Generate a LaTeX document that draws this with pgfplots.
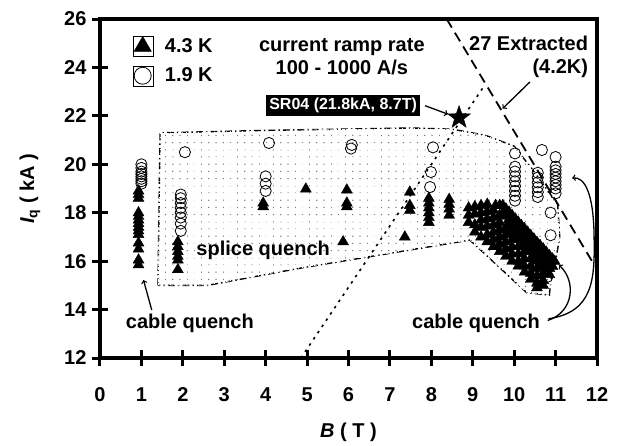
\documentclass[border=0pt]{standalone}
\usepackage{fontspec}
\setmainfont{Liberation Sans}
\usepackage{pgfplots}
\pgfplotsset{compat=1.18}
\usetikzlibrary{patterns}

\pgfdeclarepatternformonly{sparsedots}{\pgfqpoint{-1pt}{-1pt}}{\pgfqpoint{1pt}{1pt}}{\pgfqpoint{7.2pt}{7.2pt}}{\pgfpathcircle{\pgfqpoint{0pt}{0pt}}{0.75pt}\pgfusepath{fill}}
\pgfdeclarepatternformonly{whitegrid}{\pgfqpoint{0pt}{0pt}}{\pgfqpoint{3.6pt}{3.6pt}}{\pgfqpoint{3.6pt}{3.6pt}}{%
 \pgfpathrectangle{\pgfqpoint{0pt}{0pt}}{\pgfqpoint{3.6pt}{1pt}}%
 \pgfpathrectangle{\pgfqpoint{0pt}{0pt}}{\pgfqpoint{1pt}{3.6pt}}%
 \pgfusepath{fill}}

\pgfdeclareplotmark{fivestar}{%
 \pgfpathmoveto{\pgfpointpolar{90}{\pgfplotmarksize}}%
 \pgfpathlineto{\pgfpointpolar{126}{0.4\pgfplotmarksize}}%
 \pgfpathlineto{\pgfpointpolar{162}{\pgfplotmarksize}}%
 \pgfpathlineto{\pgfpointpolar{198}{0.4\pgfplotmarksize}}%
 \pgfpathlineto{\pgfpointpolar{234}{\pgfplotmarksize}}%
 \pgfpathlineto{\pgfpointpolar{270}{0.4\pgfplotmarksize}}%
 \pgfpathlineto{\pgfpointpolar{306}{\pgfplotmarksize}}%
 \pgfpathlineto{\pgfpointpolar{342}{0.4\pgfplotmarksize}}%
 \pgfpathlineto{\pgfpointpolar{18}{\pgfplotmarksize}}%
 \pgfpathlineto{\pgfpointpolar{54}{0.4\pgfplotmarksize}}%
 \pgfpathclose\pgfusepathqfillstroke}

\newcommand\fs{\fontsize{20}{23}\selectfont\bfseries}

\begin{document}
\begin{tikzpicture}
\useasboundingbox (-100pt,-87pt) rectangle (518pt,358pt);
\begin{axis}[
  at={(0,0)}, anchor=south west,
  scale only axis, width=497pt, height=339pt,
  xmin=0, xmax=12, ymin=12, ymax=26,
  clip=false,
  axis line style={line width=3pt},
  xtick={0,1,...,12}, ytick={12,14,...,26},
  tick pos=left, tick align=center, major tick length=16pt,
  major tick style={line width=3pt, black},
  /pgf/number format/assume math mode=true,
  ticklabel style={font=\fs},
  yticklabel style={xshift=-2pt},
  xticklabel style={yshift=-18pt},
  xlabel={{\itshape B} ( T )},
  ylabel={{\itshape I}\textsubscript{q} ( kA )},
  every axis x label/.style={at={(axis description cs:0.5,-0.218)}, anchor=center, font=\fs},
  every axis y label/.style={at={(axis description cs:-0.141,0.5)}, anchor=center, rotate=90, font=\fs},
  legend style={at={(axis cs:0.78,25.3)}, anchor=north west, draw=none, fill=none,
    font=\fs, row sep=9pt, inner sep=0pt, column sep=10pt},
  legend cell align=left,
  legend image code/.code={\path (-10pt,-10pt) rectangle (10pt,10pt);
     \draw[#1] plot coordinates {(0pt,0pt)};},
]
% splice region (dotted fill)
\addplot[black, line width=1.4pt, dash pattern=on 7pt off 3pt on 1.5pt off 3pt,
  pattern=sparsedots, pattern color=black!55, forget plot] coordinates {
 (1.4,15.0)(1.45,21.3)(4,21.4)(7.5,21.5)(8.5,21.45)(9.3,21.2)(10.0,20.75)
 (10.45,19.76)(11.05,18.35)(11.1,17.0)(11.0,16.0)(10.9,15.4)(10.85,14.6)
 (10.3,14.7)(8.93,16.87)(4.8,15.7)(2.6,15.0)} -- cycle;

% 4.3 K, quenches inside region (checkered look)
\addplot[only marks, mark=triangle*, mark size=6.3pt, black, mark options={line width=0.4pt}, forget plot] coordinates {
 (1.88,16.8)(1.88,16.6)(1.88,16.4)(1.88,16.2)(1.88,16.05)(1.88,15.65)
 (3.94,18.4)(3.94,18.25)
 (4.97,18.98)
 (5.96,18.94)(5.96,18.4)(5.96,18.25)(5.87,16.8)
 (7.48,18.85)(7.48,18.3)(7.48,18.1)(7.36,17.0)
 (7.94,18.6)(7.94,18.4)(7.94,18.2)(7.94,18.0)(7.94,17.8)(7.94,17.6)
 (8.43,18.55)(8.43,18.35)(8.43,18.15)(8.43,17.9)
 (8.9,18.2)(8.9,17.9)(8.9,17.6)
 (9.05,18.25)(9.05,17.95)(9.05,17.5)(9.05,17.2)
 (9.2,18.3)(9.2,18.0)(9.2,17.7)(9.2,17.4)(9.2,17.0)
 (9.35,18.35)(9.35,18.05)(9.35,17.75)(9.35,17.45)(9.35,17.1)(9.35,16.8)
 (9.5,18.1)(9.5,17.8)(9.5,17.5)(9.5,17.2)(9.5,16.9)(9.5,16.6)
 (9.65,17.9)(9.65,17.6)(9.65,17.3)(9.65,17.0)(9.65,16.7)(9.65,16.4)
 (9.8,17.4)(9.8,17.1)(9.8,16.8)(9.8,16.5)(9.8,16.2)
 (9.95,17.2)(9.95,16.9)(9.95,16.6)(9.95,16.3)(9.95,16.0)
 (10.1,16.9)(10.1,16.6)(10.1,16.3)(10.1,16.0)(10.1,15.8)
 (10.25,16.7)(10.25,16.4)(10.25,16.1)(10.25,15.8)(10.25,15.55)
 (10.4,16.4)(10.4,16.1)(10.4,15.8)(10.4,15.5)(10.4,15.25)
 (10.55,16.0)(10.55,15.7)(10.55,15.4)(10.55,15.1)(10.55,14.9)
 (10.7,15.8)(10.7,15.5)(10.7,15.2)(10.7,15.0)
 (10.85,15.7)(10.85,15.45)
};
% white grid overlay gives the checkered look
\addplot[draw=none, pattern=whitegrid, pattern color=white, forget plot] coordinates {
 (1.4,15.0)(1.45,21.3)(4,21.4)(7.5,21.5)(8.5,21.45)(9.3,21.2)(10.0,20.75)
 (10.45,19.76)(11.05,18.35)(11.1,17.0)(11.0,16.0)(10.9,15.4)(10.85,14.6)
 (10.3,14.7)(8.93,16.87)(4.8,15.7)(2.6,15.0)} -- cycle;

% 4.3 K, solid
\addplot[only marks, mark=triangle*, mark size=6.3pt, black, mark options={line width=0.4pt}, forget plot] coordinates {
 (0.93,18.9)(0.93,18.75)(0.93,18.6)(0.93,18.0)(0.93,17.85)(0.93,17.7)(0.93,17.55)
 (0.93,17.4)(0.93,17.25)(0.93,17.1)(0.93,16.75)(0.93,16.5)(0.93,16.05)(0.93,15.85)
 (9.55,18.3)(9.65,18.3)(9.725,18.3)(9.8,18.16)(9.875,18.03)(9.95,17.89)
 (10.025,17.75)(10.1,17.61)(10.175,17.47)(10.25,17.34)(10.325,17.2)(10.4,17.06)
 (10.475,16.92)(10.55,16.78)(10.625,16.65)(10.7,16.51)(10.775,16.37)(10.85,16.23)
 (10.925,16.09)(10.98,15.99)
 (9.725,18.0)(9.8,17.86)(9.875,17.73)(9.95,17.59)
 (10.025,17.45)(10.1,17.31)(10.175,17.17)(10.25,17.04)(10.325,16.9)(10.4,16.76)
 (10.475,16.62)(10.55,16.48)(10.625,16.35)(10.7,16.21)(10.775,16.07)(10.85,15.93)
 (10.925,15.79)
 (9.875,17.43)(9.95,17.29)
 (10.025,17.15)(10.1,17.01)(10.175,16.87)(10.25,16.74)(10.325,16.6)(10.4,16.46)
 (10.475,16.32)(10.55,16.18)(10.625,16.05)(10.7,15.91)(10.775,15.77)
};

% 1.9 K
\addplot[only marks, mark=o, mark size=5.6pt, black, line width=0.8pt, forget plot] coordinates {
 (1.0,20.0)(1.0,19.85)(1.0,19.7)(1.0,19.6)(1.0,19.5)(1.0,19.4)(1.0,19.3)(1.0,19.2)
 (2.05,20.5)
 (1.95,18.75)(1.95,18.6)(1.95,18.4)(1.95,18.2)(1.95,18.0)(1.95,17.8)(1.95,17.55)(1.95,17.25)
 (4.08,20.88)(4.0,19.5)(4.0,19.2)(4.0,18.9)
 (6.08,20.8)(6.06,20.65)
 (8.04,20.7)(7.99,19.68)(7.97,19.06)
 (10.02,20.45)(10.02,19.9)(10.02,19.7)(10.02,19.5)(10.02,19.3)(10.02,19.1)(10.02,18.9)(10.02,18.7)(10.02,18.5)
 (10.67,20.59)
 (10.57,19.65)(10.57,19.45)(10.57,19.25)(10.57,19.05)(10.57,18.85)(10.57,18.65)
 (11.0,20.3)(11.0,19.9)(11.0,19.75)(11.0,19.6)(11.0,19.45)(11.0,19.3)(11.0,19.15)(11.0,19.0)(11.0,18.8)
 (10.88,18.0)(10.88,17.07)(10.8,15.35)
};

% load line through SR04
\addplot[black, line width=1.6pt, dash pattern=on 2.5pt off 5pt, forget plot] coordinates {(4.85,12) (9.3,23.3)};
% 27 extracted limit
\addplot[black, line width=1.8pt, dash pattern=on 10pt off 6pt, forget plot] coordinates {(8.37,26) (11.95,15.8)};
% SR04 star
\addplot[only marks, mark=fivestar, mark size=12pt, black, mark options={line width=0.4pt}, forget plot] coordinates {(8.67,21.93)};

\addlegendimage{only marks, mark=triangle*, mark size=10pt, black, mark options={line width=0.4pt}}
\addlegendentry{4.3 K}
\addlegendimage{only marks, mark=o, mark size=8.5pt, black, mark options={line width=0.8pt}}
\addlegendentry{1.9 K}

% annotations
\node[font=\fs, align=center] at (axis cs:5.84,24.45) {current ramp rate\\100 - 1000 A/s};
\node[font=\fs, align=right, anchor=east] at (axis cs:11.87,24.45) {27 Extracted\\(4.2K)};
\node[font=\fontsize{16}{18}\selectfont\bfseries, fill=black, text=white, inner sep=3pt] at (axis cs:5.87,22.43) {SR04 (21.8kA, 8.7T)};
\node[font=\fs] at (axis cs:3.94,16.46) {splice quench};
\node[font=\fs] at (axis cs:2.17,13.44) {cable quench};
\node[font=\fs] at (axis cs:9.08,13.44) {cable quench};

\draw[->, line width=1.3pt] (axis cs:7.85,22.42) -- (axis cs:8.4,22.07);
\draw[->, line width=1.3pt] (axis cs:10.38,23.4) -- (axis cs:9.72,22.3);
\draw[->, line width=1.3pt] (axis cs:1.25,13.98) -- (axis cs:1.05,15.22);
\draw[->, line width=1.3pt] (axis cs:10.81,13.55) .. controls (axis cs:11.45,13.9) and (axis cs:11.5,15.2) .. (axis cs:11.08,15.84);
\draw[->, line width=1.3pt] (axis cs:10.83,13.62) .. controls (axis cs:11.9,13.9) and (axis cs:11.95,15.2) .. (axis cs:11.93,17.0)
   .. controls (axis cs:11.92,18.8) and (axis cs:11.7,19.5) .. (axis cs:11.4,19.43);
% heavy frame
\draw[line width=3.3pt, line cap=rect] (rel axis cs:0,0) rectangle (rel axis cs:1,1);
\end{axis}
\end{tikzpicture}
\end{document}
